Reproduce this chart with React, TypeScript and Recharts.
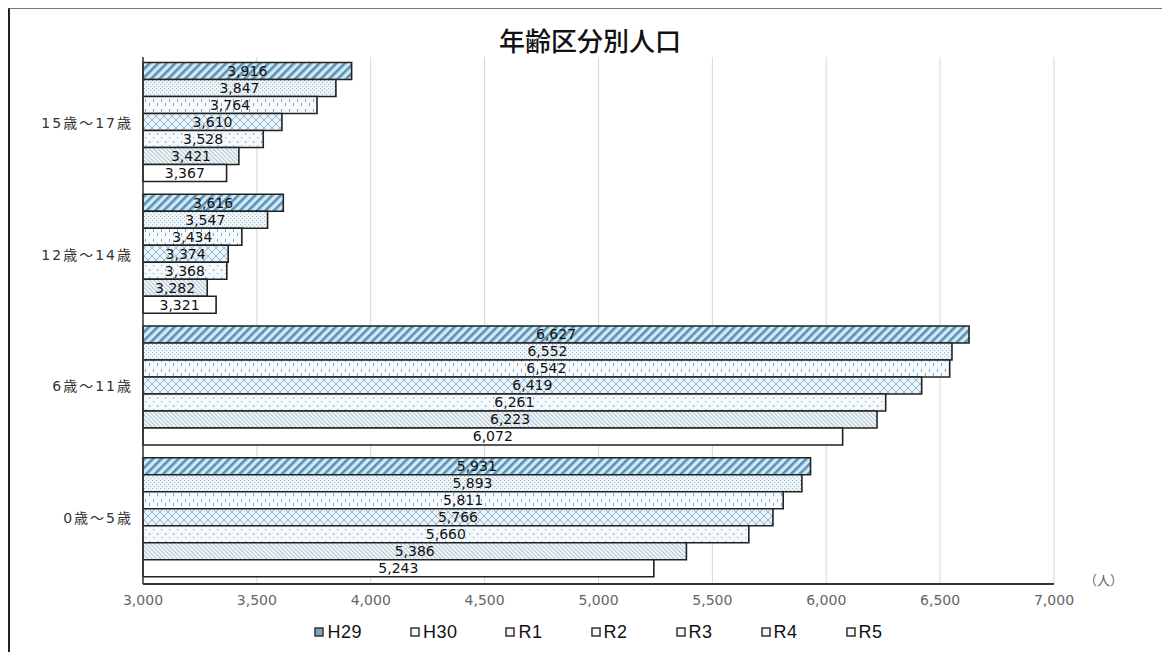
import { Bar, BarChart, CartesianGrid, LabelList, Legend, XAxis, YAxis } from 'recharts';

const categories = ['15歳～17歳', '12歳～14歳', '6歳～11歳', '0歳～5歳'];
const seriesNames = ['H29', 'H30', 'R1', 'R2', 'R3', 'R4', 'R5'];
const h29 = [3916, 3616, 6627, 5931];
const h30 = [3847, 3547, 6552, 5893];
const r1 = [3764, 3434, 6542, 5811];
const r2 = [3610, 3374, 6419, 5766];
const r3 = [3528, 3368, 6261, 5660];
const r4 = [3421, 3282, 6223, 5386];
const r5 = [3367, 3321, 6072, 5243];
const xTicks = [3000, 3500, 4000, 4500, 5000, 5500, 6000, 6500, 7000];

const seriesValues = [h29, h30, r1, r2, r3, r4, r5];
const data = categories.map((name, i) => {
  const row: Record<string, string | number> = { name };
  seriesNames.forEach((s, j) => {
    row[s] = seriesValues[j][i];
  });
  return row;
});

const fills = [
  'url(#pH29)',
  'url(#pH30)',
  'url(#pR1)',
  'url(#pR2)',
  'url(#pR3)',
  'url(#pR4)',
  '#ffffff',
];

const fmt = (v: number) => v.toLocaleString('en-US');
const numFont = '"DejaVu Sans", "Noto Sans CJK JP", sans-serif';

function Patterns() {
  return (
    <svg width={0} height={0} style={{ position: 'absolute' }}>
      <defs>
        <pattern id="pH29" width="6" height="6" patternUnits="userSpaceOnUse" patternTransform="rotate(45)">
          <rect width="6" height="6" fill="#cfeaf7" />
          <rect x="0" y="0" width="2.6" height="6" fill="#5f8fb0" />
        </pattern>
        <pattern id="pH30" width="4" height="4" patternUnits="userSpaceOnUse">
          <rect width="4" height="4" fill="#f1f8fc" />
          <rect x="0" y="0" width="1.2" height="1.2" fill="#a4bccb" />
          <rect x="2" y="2" width="1.2" height="1.2" fill="#a4bccb" />
        </pattern>
        <pattern id="pR1" width="8" height="10" patternUnits="userSpaceOnUse">
          <rect width="8" height="10" fill="#f4fafd" />
          <rect x="1" y="1" width="1" height="3" fill="#8ea6b8" />
          <rect x="5" y="5" width="1" height="3" fill="#8ea6b8" />
        </pattern>
        <pattern id="pR2" width="8" height="8" patternUnits="userSpaceOnUse">
          <rect width="8" height="8" fill="#e7f3fa" />
          <path d="M0 0 L8 8 M8 0 L0 8" stroke="#9db6c8" strokeWidth="1" />
        </pattern>
        <pattern id="pR3" width="8" height="8" patternUnits="userSpaceOnUse">
          <rect width="8" height="8" fill="#f3f9fd" />
          <rect x="1" y="1" width="1.2" height="1.2" fill="#98b0c0" />
          <rect x="5" y="5" width="1.2" height="2" fill="#98b0c0" />
        </pattern>
        <pattern id="pR4" width="3" height="3" patternUnits="userSpaceOnUse" patternTransform="rotate(-45)">
          <rect width="3" height="3" fill="#f0f7fb" />
          <rect x="0" y="0" width="1" height="3" fill="#b2c4d0" />
        </pattern>
      </defs>
    </svg>
  );
}

function LegendContent() {
  return (
    <div
      style={{
        display: 'flex',
        justifyContent: 'center',
        alignItems: 'center',
        height: 20,
        fontFamily: '"Liberation Sans", Arial, sans-serif',
        fontSize: 18,
        color: '#111',
      }}
    >
      {seriesNames.map((s, i) => (
        <div key={s} style={{ display: 'flex', alignItems: 'center', marginRight: i < seriesNames.length - 1 ? 48 : 0 }}>
          <svg width={10} height={10} style={{ marginRight: 3 }}>
            <rect x={1} y={1} width={8} height={8} fill={i === 0 ? '#7fa3bd' : '#f4f8fb'} stroke="#333" strokeWidth={1.5} />
          </svg>
          <span style={{ letterSpacing: 0.5 }}>{s}</span>
        </div>
      ))}
    </div>
  );
}

export default function App() {
  return (
    <div
      style={{
        position: 'relative',
        width: 1160,
        height: 644,
        borderTop: '1px solid #777',
        borderLeft: '2px solid #222',
        boxSizing: 'border-box',
        background: '#fff',
      }}
    >
      <Patterns />
      <div
        style={{
          position: 'absolute',
          top: 12,
          left: 0,
          width: 1160,
          textAlign: 'center',
          fontFamily: '"Noto Sans CJK JP", sans-serif',
          fontSize: 26,
          fontWeight: 500,
          color: '#111',
        }}
      >
        年齢区分別人口
      </div>
      <div
        style={{
          position: 'absolute',
          top: 561,
          left: 1074,
          fontFamily: '"Noto Sans CJK JP", sans-serif',
          fontSize: 13,
          color: '#666',
        }}
      >
        （人）
      </div>
      <div style={{ position: 'absolute', top: -1, left: -2 }}>
        <BarChart
          width={1160}
          height={644}
          data={data}
          layout="vertical"
          margin={{ top: 49, right: 114, bottom: 10, left: 0 }}
          barCategoryGap={5.5}
          barGap={0}
        >
          <CartesianGrid horizontal={false} stroke="#d6d6d6" />
          <XAxis
            type="number"
            domain={[3000, 7000]}
            ticks={xTicks}
            tickFormatter={fmt}
            tickLine={false}
            tickMargin={5}
            height={38}
            axisLine={{ stroke: '#333', strokeWidth: 2 }}
            tick={{ fontSize: 14, fill: '#666', fontFamily: numFont }}
          />
          <YAxis
            type="category"
            dataKey="name"
            width={135}
            tickLine={false}
            tickMargin={4}
            axisLine={{ stroke: '#333', strokeWidth: 1.5 }}
            tick={{ fontSize: 14, fill: '#333', fontFamily: numFont, letterSpacing: 2 }}
          />
          <Legend verticalAlign="bottom" content={<LegendContent />} wrapperStyle={{ left: 135, width: 911 }} />
          {seriesNames.map((s, i) => (
            <Bar key={s} dataKey={s} fill={fills[i]} stroke="#222" strokeWidth={1.6} isAnimationActive={false}>
              <LabelList
                dataKey={s}
                position="center"
                formatter={(v: any) => fmt(Number(v))}
                style={{ fontSize: 14, fill: '#111', fontFamily: numFont }}
              />
            </Bar>
          ))}
        </BarChart>
      </div>
    </div>
  );
}
